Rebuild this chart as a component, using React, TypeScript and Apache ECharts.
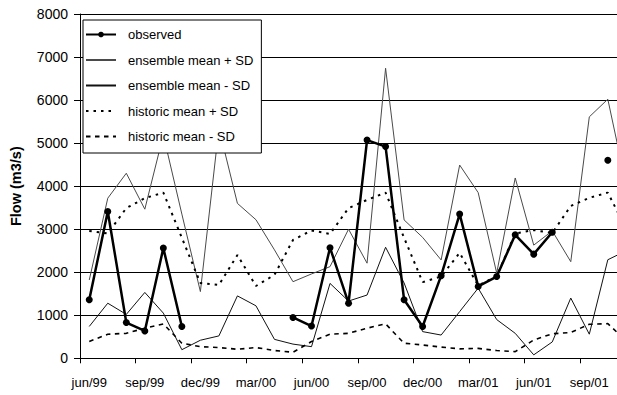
import React, { useEffect, useRef } from "react";
import * as echarts from "echarts";

const months = [
  "jun/99", "jul/99", "aug/99", "sep/99", "oct/99", "nov/99", "dec/99", "jan/00", "feb/00", "mar/00",
  "apr/00", "may/00", "jun/00", "jul/00", "aug/00", "sep/00", "oct/00", "nov/00", "dec/00", "jan/01",
  "feb/01", "mar/01", "apr/01", "may/01", "jun/01", "jul/01", "aug/01", "sep/01", "oct/01", "nov/01",
];

const observed = [
  1360, 3410, 830, 635, 2560, 740, null, null, null, null,
  null, 950, 750, 2570, 1280, 5070, 4920, 1360, 740, 1920,
  3350, 1670, 1900, 2870, 2420, 2930, null, null, 4600, null,
];

const ensemblePlusSD = [
  1820, 3720, 4300, 3465, 5190, 3350, 1550, 5350, 3600, 3220,
  2520, 1780, 1960, 2130, 3000, 2210, 6740, 3215, 2810, 2285,
  4490, 3850, 1980, 4190, 2630, 2960, 2245, 5610, 6020, 4000,
];

const ensembleMinusSD = [
  740, 1280, 1020, 1530, 1050, 200, 420, 520, 1450, 1220,
  440, 330, 270, 1740, 1330, 1470, 2580, 1750, 620, 540,
  1085, 1630, 900, 580, 80, 380, 1400, 560, 2290, 2500,
];

const historicPlusSD = [
  2960, 2900, 3490, 3720, 3850, 2800, 1750, 1705, 2400, 1680,
  1940, 2750, 2970, 2890, 3490, 3680, 3850, 2800, 1770, 1900,
  2450, 1690, 1910, 2900, 2980, 2910, 3540, 3730, 3850, 3000,
];

const historicMinusSD = [
  390, 560, 580, 700, 800, 350, 270, 250, 210, 250,
  180, 140, 390, 560, 580, 700, 800, 350, 310, 260,
  220, 230, 180, 155, 425, 570, 600, 790, 805, 400,
];

const yTicks = { min: 0, max: 8000, interval: 1000 };

const FONT = 'Arial, "Liberation Sans", sans-serif';

const hiddenMarker = { color: "rgba(0,0,0,0)", borderWidth: 0, opacity: 0 };

export default function App() {
  const ref = useRef<HTMLDivElement>(null);

  useEffect(() => {
    if (!ref.current) return;
    const chart = echarts.init(ref.current, null, { renderer: "svg" });
    chart.setOption({
      animation: false,
      backgroundColor: "#ffffff",
      textStyle: { fontFamily: FONT, color: "#000" },
      grid: { left: 74, top: 14, right: 0.4, bottom: 36.7, containLabel: false },
      legend: {
        left: 83,
        top: 20,
        orient: "vertical",
        itemWidth: 30,
        itemHeight: 7,
        itemGap: 12.5,
        padding: [8, 8, 10, 2],
        backgroundColor: "#ffffff",
        borderColor: "#000",
        borderWidth: 1,
        borderRadius: 0,
        textStyle: { fontFamily: FONT, fontSize: 13, color: "#000", padding: [0, 0, 0, 7] },
        data: [
          { name: "observed" },
          { name: "ensemble mean + SD", itemStyle: hiddenMarker },
          { name: "ensemble mean - SD", itemStyle: hiddenMarker },
          { name: "historic mean + SD", itemStyle: hiddenMarker },
          { name: "historic mean - SD", itemStyle: hiddenMarker },
        ],
      },
      xAxis: {
        type: "category",
        data: months,
        boundaryGap: true,
        axisLine: { lineStyle: { color: "#000", width: 1 } },
        axisTick: { show: true, interval: 2, length: 5, lineStyle: { color: "#000" } },
        axisLabel: {
          interval: 2,
          margin: 18,
          fontFamily: FONT,
          fontSize: 13,
          color: "#000",
        },
        splitLine: { show: false },
      },
      yAxis: {
        type: "value",
        min: yTicks.min,
        max: yTicks.max,
        interval: yTicks.interval,
        name: "Flow (m3/s)",
        nameLocation: "middle",
        nameRotate: 90,
        nameGap: 57,
        nameTextStyle: { fontFamily: FONT, fontSize: 14.5, fontWeight: "bold", color: "#000" },
        axisLine: { show: true, lineStyle: { color: "#000", width: 1 } },
        axisTick: { show: true, length: 6, lineStyle: { color: "#000" } },
        axisLabel: {
          margin: 12,
          fontFamily: FONT,
          fontSize: 14,
          color: "#000",
          formatter: (v: number) => String(v),
        },
        splitLine: { show: true, lineStyle: { color: "#000", width: 1 } },
      },
      series: [
        {
          name: "ensemble mean + SD",
          type: "line",
          data: ensemblePlusSD,
          symbol: "none",
          lineStyle: { color: "#4a4a4a", width: 1 },
          itemStyle: { color: "#4a4a4a" },
          z: 2,
        },
        {
          name: "ensemble mean - SD",
          type: "line",
          data: ensembleMinusSD,
          symbol: "none",
          lineStyle: { color: "#111", width: 1 },
          itemStyle: { color: "#111" },
          z: 2,
        },
        {
          name: "historic mean + SD",
          type: "line",
          data: historicPlusSD,
          symbol: "none",
          lineStyle: { color: "#000", width: 2, type: [2.5, 5] },
          itemStyle: { color: "#000" },
          z: 3,
        },
        {
          name: "historic mean - SD",
          type: "line",
          data: historicMinusSD,
          symbol: "none",
          lineStyle: { color: "#000", width: 1.6, type: [4.5, 4.5] },
          itemStyle: { color: "#000" },
          z: 3,
        },
        {
          name: "observed",
          type: "line",
          data: observed,
          symbol: "circle",
          symbolSize: 7,
          showSymbol: true,
          showAllSymbol: true,
          connectNulls: false,
          lineStyle: { color: "#000", width: 2.5 },
          itemStyle: { color: "#000" },
          z: 5,
        },
      ],
    });
    return () => chart.dispose();
  }, []);

  return (
    <div
      style={{
        position: "fixed",
        left: 0,
        top: 0,
        width: 617,
        height: 395,
        overflow: "hidden",
        background: "#fff",
      }}
    >
      <div ref={ref} style={{ width: 636, height: 395 }} />
    </div>
  );
}
